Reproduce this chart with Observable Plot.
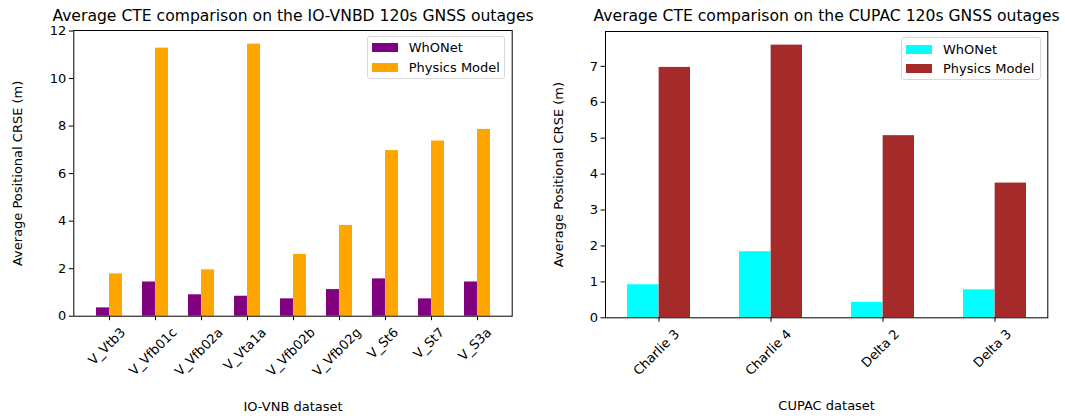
<!DOCTYPE html>
<html><head><meta charset="utf-8">
<script src="https://cdn.jsdelivr.net/npm/d3@7"></script>
<script src="https://cdn.jsdelivr.net/npm/@observablehq/plot@0.6"></script>
<style>
body{margin:0;background:#fff;font-family:"DejaVu Sans",sans-serif;}
#root{position:relative;width:1065px;height:418px;overflow:hidden;background:#fff;}
.panel{position:absolute;top:0;}
.legend{position:absolute;box-sizing:border-box;background:#fff;border:1px solid #d9d9d9;border-radius:3px;font-size:13px;color:#000;padding-top:1px;font-family:"DejaVu Sans",sans-serif;}
.legend .row{display:flex;align-items:center;height:19.8px;}
.legend .sw{width:26px;height:9px;margin-left:4px;margin-right:11px;flex:none;}
</style></head><body><div id="root"></div>
<script>
// ---- data ----
const ioCategories = ["V_Vtb3","V_Vfb01c","V_Vfb02a","V_Vta1a","V_Vfb02b","V_Vfb02g","V_St6","V_St7","V_S3a"];
const ioWhONet  = [0.35, 1.44, 0.90, 0.84, 0.73, 1.12, 1.57, 0.73, 1.44];
const ioPhysics = [1.78, 11.28, 1.95, 11.45, 2.60, 3.82, 6.97, 7.37, 7.86];
const ioYTicks = [0, 2, 4, 6, 8, 10, 12];

const cupacCategories = ["Charlie 3","Charlie 4","Delta 2","Delta 3"];
const cupacWhONet  = [0.92, 1.84, 0.43, 0.78];
const cupacPhysics = [6.97, 7.59, 5.07, 3.75];
const cupacYTicks = [0, 1, 2, 3, 4, 5, 6, 7];

const seriesNames = ["WhONet", "Physics Model"];

const H = 418;
function panel(o) {
  const n = o.categories.length;
  const barW = 0.28;
  const padInner = 1 - 2 * barW;
  const padOuter = 0.05 * (n - 1 + 2 * barW);
  const step = (o.width - o.ml - o.mr) / (n - padInner + 2 * padOuter);
  const half = step * (1 - padInner) / 2;
  const rows = o.categories.map((c, i) => ({category: c, a: o.whonet[i], b: o.physics[i]}));
  const yMax = Math.max(...o.physics, ...o.whonet) * 1.05;
  return Plot.plot({
    width: o.width, height: H,
    marginLeft: o.ml, marginRight: o.mr, marginTop: o.mt, marginBottom: o.mb,
    style: {fontFamily: "DejaVu Sans", fontSize: "13px", background: "transparent", color: "#000", overflow: "visible"},
    x: {type: "band", domain: o.categories, paddingInner: padInner, paddingOuter: padOuter},
    y: {domain: [0, yMax]},
    marks: [
      Plot.barY(rows, {x: "category", y: "a", fill: o.colors[0], insetLeft: 0, insetRight: half}),
      Plot.barY(rows, {x: "category", y: "b", fill: o.colors[1], insetLeft: half, insetRight: 0}),
      Plot.frame({stroke: "#000", strokeWidth: 1}),
      Plot.axisY({ticks: o.yTicks, tickSize: 4.5, tickPadding: 3, label: null, fontSize: 13}),
      Plot.axisX({tickSize: 4.5, tickFormat: () => "", label: null}),
      Plot.text(o.categories, {x: d => d, text: d => d, frameAnchor: "bottom", rotate: -45, textAnchor: "middle", lineAnchor: "middle", dx: -2.5, dy: 14.1, fontSize: 13}),
      Plot.text([o.xLabel], {text: d => d, frameAnchor: "bottom", textAnchor: "middle", lineAnchor: "middle", dy: o.xLabelDy, fontSize: 13}),
      Plot.text([o.yLabel], {text: d => d, frameAnchor: "left", rotate: -90, textAnchor: "middle", lineAnchor: "middle", dx: o.yLabelDx, fontSize: 13}),
      Plot.text([o.title], {text: d => d, frameAnchor: "top", textAnchor: "middle", lineAnchor: "middle", dy: o.titleDy, fontSize: 15.6})
    ]
  });
}

// matplotlib-like alignment of rotated tick labels: bounding box top fixed, so longer labels sit lower
function alignTicks(svg, categories) {
  const set = new Set(categories);
  svg.querySelectorAll("text").forEach(t => {
    if (!set.has(t.textContent)) return;
    const L = t.getComputedTextLength();
    const tr = t.getAttribute("transform") || "";
    t.setAttribute("transform", `translate(0,${(L * 0.354).toFixed(2)}) ${tr}`);
  });
}

function legend(colors, left, top, width) {
  const d = document.createElement("div");
  d.className = "legend";
  d.style.left = left + "px"; d.style.top = top + "px"; d.style.width = width + "px";
  seriesNames.forEach((s, i) => {
    const r = document.createElement("div"); r.className = "row";
    const sw = document.createElement("span"); sw.className = "sw"; sw.style.background = colors[i];
    const t = document.createElement("span"); t.textContent = s;
    r.appendChild(sw); r.appendChild(t); d.appendChild(r);
  });
  return d;
}

const root = document.getElementById("root");
const left = panel({
  categories: ioCategories, whonet: ioWhONet, physics: ioPhysics, yTicks: ioYTicks,
  colors: ["#800080", "#FFA500"],
  title: "Average CTE comparison on the IO-VNBD 120s GNSS outages",
  xLabel: "IO-VNB dataset", yLabel: "Average Positional CRSE (m)",
  width: 532, ml: 73.3, mr: 20.3, mt: 30, mb: 102.3, xLabelDy: 91, yLabelDx: -55.8, titleDy: -14.3
});
left.classList.add("panel"); left.style.left = "0px";
root.appendChild(left);
alignTicks(left, ioCategories);

const right = panel({
  categories: cupacCategories, whonet: cupacWhONet, physics: cupacPhysics, yTicks: cupacYTicks,
  colors: ["#00FFFF", "#A52A2A"],
  title: "Average CTE comparison on the CUPAC 120s GNSS outages",
  xLabel: "CUPAC dataset", yLabel: "Average Positional CRSE (m)",
  width: 533, ml: 73, mr: 17.7, mt: 31, mb: 100.7, xLabelDy: 87.7, yLabelDx: -46.7, titleDy: -15.3
});
right.classList.add("panel"); right.style.left = "532px";
root.appendChild(right);
alignTicks(right, cupacCategories);

root.appendChild(legend(["#800080", "#FFA500"], 366.7, 36, 138.3));
root.appendChild(legend(["#00FFFF", "#A52A2A"], 901, 37.3, 139.7));
</script></body></html>
